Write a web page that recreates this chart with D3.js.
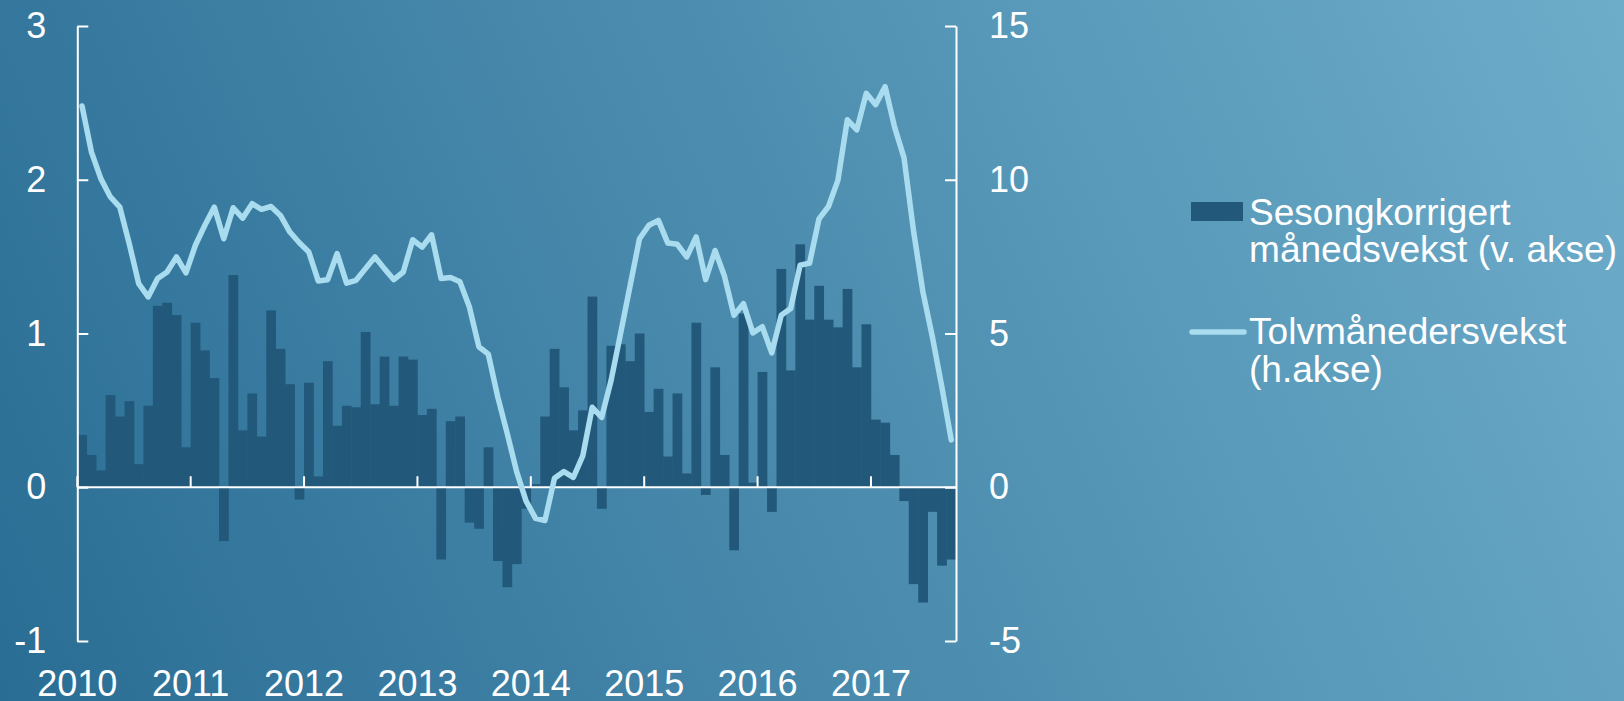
<!DOCTYPE html>
<html>
<head>
<meta charset="utf-8">
<script src="https://cdn.jsdelivr.net/npm/d3@7"></script>
<style>
  html, body { margin: 0; padding: 0; overflow: hidden; }
  svg { display: block; font-family: "Liberation Sans", Arial, sans-serif; }
  .axis text { fill: #fff; font-size: 36px; }
  .axis line, .axis path { stroke: #fff; stroke-width: 2; }
  .legend text { fill: #fff; font-size: 36px; }
</style>
</head>
<body>
<svg id="chart"></svg>
<script>
// monthly data, Jan 2010 - Sep 2017
var startMonth = new Date(2010, 0, 1);
var endMonth = new Date(2017, 9, 1);

// seasonally adjusted monthly growth (left axis)
var monthlyGrowth = [
  0.34, 0.21, 0.11, 0.60, 0.46, 0.56, 0.15, 0.53, 1.18, 1.20, 1.12, 0.26,
  1.07, 0.89, 0.71, -0.35, 1.38, 0.37, 0.61, 0.33, 1.15, 0.90, 0.67, -0.08,
  0.68, 0.07, 0.82, 0.40, 0.53, 0.52, 1.01, 0.54, 0.85, 0.53, 0.85, 0.83,
  0.47, 0.51, -0.47, 0.43, 0.46, -0.23, -0.27, 0.26, -0.48, -0.65, -0.50, -0.14,
  0.02, 0.46, 0.90, 0.65, 0.37, 0.50, 1.24, -0.14, 0.92, 0.93, 0.82, 1.00,
  0.49, 0.64, 0.20, 0.61, 0.09, 1.07, -0.05, 0.78, 0.21, -0.41, 1.13, 0.03,
  0.75, -0.16, 1.42, 0.76, 1.58, 1.09, 1.31, 1.09, 1.04, 1.29, 0.78, 1.06,
  0.44, 0.42, 0.21, -0.09, -0.63, -0.75, -0.16, -0.51, -0.47
];

// twelve-month growth (right axis)
var yearlyGrowth = [
  12.4, 10.9, 10.03, 9.44, 9.11, 7.92, 6.62, 6.19, 6.79, 7.0, 7.49, 6.97,
  7.87, 8.52, 9.11, 8.08, 9.09, 8.75, 9.22, 9.04, 9.13, 8.84, 8.3, 7.95,
  7.65, 6.71, 6.75, 7.6, 6.64, 6.73, 7.11, 7.49, 7.11, 6.75, 7.0, 8.05,
  7.81, 8.21, 6.79, 6.82, 6.68, 5.86, 4.57, 4.33, 2.94, 1.75, 0.51, -0.45,
  -1.01, -1.08, 0.29, 0.51, 0.32, 1.02, 2.6, 2.27, 3.48, 5.0, 6.54, 8.08,
  8.52, 8.68, 7.94, 7.9, 7.49, 8.14, 6.75, 7.7, 6.86, 5.59, 5.97, 5.02,
  5.22, 4.37, 5.59, 5.81, 7.22, 7.29, 8.73, 9.13, 9.98, 11.95, 11.62, 12.81,
  12.44, 13.03, 11.71, 10.71, 8.35, 6.35, 4.89, 3.27, 1.54
];

var leftTicks = [-1, 0, 1, 2, 3];
var rightTicks = [-5, 0, 5, 10, 15];
var yearLabels = ["2010", "2011", "2012", "2013", "2014", "2015", "2016", "2017"];

var legendLabels = [
  ["Sesongkorrigert", "månedsvekst (v. akse)"],
  ["Tolvmånedersvekst", "(h.akse)"]
];

var barColor = "#22587a";
var lineColor = "#a9dcef";

var width = 1624, height = 701;
var svg = d3.select("#chart").attr("width", width).attr("height", height);

// plain number labels with an ordinary hyphen for negatives
var plainNum = function (d) { return String(d); };

// background gradient
var defs = svg.append("defs");
var grad = defs.append("linearGradient")
  .attr("id", "bg")
  .attr("gradientUnits", "userSpaceOnUse")
  .attr("x1", 0).attr("y1", height)
  .attr("x2", width).attr("y2", 0);
grad.append("stop").attr("offset", "0%").attr("stop-color", "#2a6d94");
grad.append("stop").attr("offset", "100%").attr("stop-color", "#6eadca");
svg.append("rect").attr("width", width).attr("height", height).attr("fill", "url(#bg)");

var months = d3.timeMonth.range(startMonth, endMonth);
var data = months.map(function (m, i) {
  return { month: m, bar: monthlyGrowth[i], line: yearlyGrowth[i] };
});

var plotLeft = 77.3, plotRight = 956, plotTop = 26, plotBottom = 641;

var x = d3.scaleBand()
  .domain(months)
  .range([plotLeft, plotRight])
  .padding(0);

var yLeft = d3.scaleLinear().domain([-1, 3]).range([plotBottom, plotTop]);
var yRight = d3.scaleLinear().domain([-5, 15]).range([plotBottom, plotTop]);

// bars
svg.append("g")
  .selectAll("rect")
  .data(data)
  .enter()
  .append("rect")
  .attr("x", function (d) { return x(d.month); })
  .attr("width", x.bandwidth() + 0.3)
  .attr("y", function (d) { return yLeft(Math.max(0, d.bar)); })
  .attr("height", function (d) { return Math.abs(yLeft(d.bar) - yLeft(0)); })
  .attr("fill", barColor);

// zero line
svg.append("line")
  .attr("x1", plotLeft).attr("x2", plotRight)
  .attr("y1", yLeft(0)).attr("y2", yLeft(0))
  .attr("stroke", "#fff").attr("stroke-width", 2);

// year ticks on the zero line
var januaries = months.filter(function (m) { return m.getMonth() === 0; });
var xTicks = d3.axisBottom(x)
  .tickValues(januaries)
  .tickSizeInner(-11)
  .tickSizeOuter(0)
  .tickFormat("");
svg.append("g")
  .attr("class", "axis")
  .attr("transform", "translate(" + (-x.bandwidth() / 2) + "," + yLeft(0) + ")")
  .call(xTicks)
  .call(function (g) { g.select(".domain").remove(); });

// year labels at the bottom
var xLabels = d3.axisBottom(x)
  .tickValues(januaries)
  .tickSize(0)
  .tickPadding(29)
  .tickFormat(function (d, i) { return yearLabels[i]; });
svg.append("g")
  .attr("class", "axis")
  .attr("transform", "translate(" + (-x.bandwidth() / 2) + "," + plotBottom + ")")
  .call(xLabels)
  .call(function (g) { g.select(".domain").remove(); });

// left axis
svg.append("g")
  .attr("class", "axis")
  .attr("transform", "translate(" + plotLeft + ",0)")
  .call(d3.axisLeft(yLeft).tickValues(leftTicks).tickFormat(plainNum)
    .tickSizeInner(-11).tickSizeOuter(0).tickPadding(31));

// right axis
svg.append("g")
  .attr("class", "axis")
  .attr("transform", "translate(" + plotRight + ",0)")
  .call(d3.axisRight(yRight).tickValues(rightTicks).tickFormat(plainNum)
    .tickSizeInner(-11).tickSizeOuter(0).tickPadding(33));

d3.selectAll(".axis").attr("font-family", null).attr("font-size", null);

// twelve-month line
var line = d3.line()
  .x(function (d) { return x(d.month) + x.bandwidth() / 2; })
  .y(function (d) { return yRight(d.line); });

svg.append("path")
  .datum(data)
  .attr("d", line)
  .attr("fill", "none")
  .attr("stroke", lineColor)
  .attr("stroke-width", 5.5)
  .attr("stroke-linejoin", "round")
  .attr("stroke-linecap", "round");

// legend
var legend = svg.append("g").attr("class", "legend");
legend.append("rect")
  .attr("x", 1191).attr("y", 202)
  .attr("width", 52).attr("height", 19)
  .attr("fill", barColor);
legend.append("line")
  .attr("x1", 1192).attr("x2", 1244)
  .attr("y1", 332).attr("y2", 332)
  .attr("stroke", lineColor).attr("stroke-width", 5.5)
  .attr("stroke-linecap", "round");

var legendY = [[225, 262], [344, 382]];
legendLabels.forEach(function (lines, i) {
  // the original text is slightly wider than the font
  var t = legend.append("text").attr("transform", "translate(1249,0) scale(1.03,1)");
  lines.forEach(function (s, j) {
    t.append("tspan").attr("x", 0).attr("y", legendY[i][j]).text(s);
  });
});
</script>
</body>
</html>
